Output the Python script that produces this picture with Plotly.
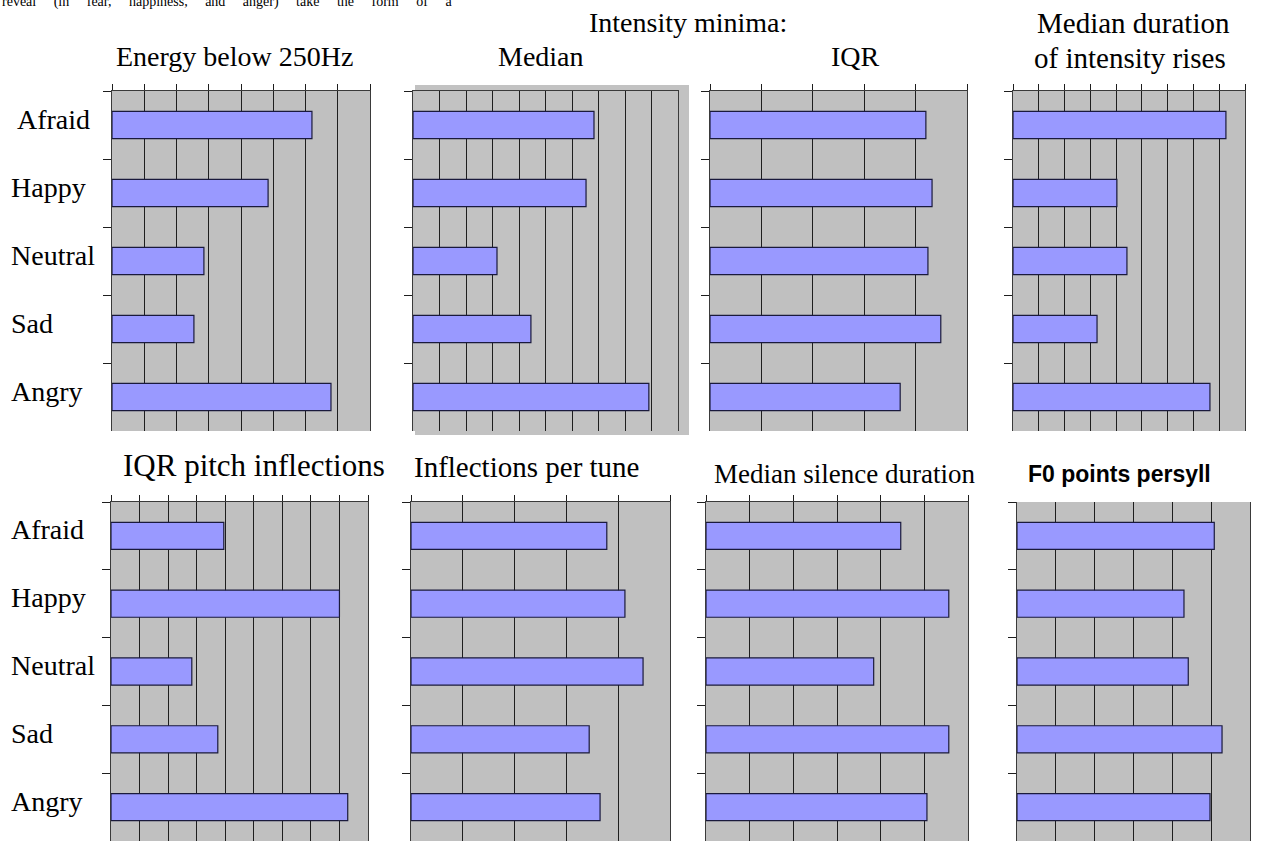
import plotly.graph_objects as go

W, H = 1261, 841

categories = ["Afraid", "Happy", "Neutral", "Sad", "Angry"]

energy_below_250 = [6.2, 4.84, 2.85, 2.54, 6.79]
intensity_min_median = [6.83, 6.53, 3.17, 4.45, 8.9]
intensity_min_iqr = [4.2, 4.32, 4.24, 4.49, 3.7]
intensity_rise_duration = [8.26, 4.03, 4.42, 3.26, 7.64]
iqr_pitch_inflections = [3.95, 8.0, 2.83, 3.74, 8.29]
inflections_per_tune = [3.78, 4.13, 4.48, 3.44, 3.65]
median_silence_duration = [4.46, 5.56, 3.84, 5.56, 5.06]
f0_points_persyll = [5.08, 4.3, 4.41, 5.28, 4.97]

axis_max = [8, 10, 5, 9, 9, 5, 6, 6]

series = [energy_below_250, intensity_min_median, intensity_min_iqr,
          intensity_rise_duration, iqr_pitch_inflections, inflections_per_tune,
          median_silence_duration, f0_points_persyll]

# panel layout in pixels: (x0, x1, y_top, y_bottom, top_line, top_ticks)
panel_geo = [
    (112, 370, 91, 431, True, True),
    (413, 678, 91, 431, True, False),
    (710, 967, 91, 431, True, True),
    (1013, 1245, 91, 431, True, True),
    (111, 368, 502, 841, True, True),
    (411, 670, 502, 841, True, True),
    (706, 968, 502, 841, True, True),
    (1017, 1250, 502, 841, False, False),
]

SERIF = "Liberation Serif, Times New Roman, serif"
GRID = "#1e1e1e"
LINE = "#3a3a3a"

fig = go.Figure()
layout = {}

for i, (vals, xmax, geo) in enumerate(zip(series, axis_max, panel_geo)):
    k = "" if i == 0 else str(i + 1)
    x0, x1, yt, yb, topline, topticks = geo
    fig.add_trace(go.Bar(
        x=vals, y=categories, orientation="h",
        xaxis="x" + k, yaxis="y" + k, width=0.4,
        marker=dict(color="#9999FF", line=dict(color="#1a1a3c", width=1.2)),
        hoverinfo="x+y", showlegend=False,
    ))
    layout["xaxis" + k] = dict(
        domain=[x0 / W, x1 / W], anchor="y" + k, side="top",
        range=[0, xmax], tick0=0, dtick=1,
        showgrid=True, gridcolor=GRID, gridwidth=1,
        showline=topline, linecolor=LINE, linewidth=1,
        ticks="outside" if topticks else "", ticklen=6, tickcolor=GRID, tickwidth=1,
        showticklabels=False, zeroline=False, fixedrange=True,
    )
    layout["yaxis" + k] = dict(
        domain=[1 - yb / H, 1 - yt / H], anchor="x" + k,
        type="category", categoryorder="array", categoryarray=categories,
        range=[4.5, -0.5], tickson="boundaries",
        ticks="outside", ticklen=8, tickcolor=GRID, tickwidth=1,
        showticklabels=False, showline=True, linecolor=LINE, linewidth=1,
        mirror=True, showgrid=False, zeroline=False, fixedrange=True,
    )

fig.update_layout(**layout)


def px(x, y):
    return x / W, 1 - y / H


annotations = []

def text(t, x, y, size, family=SERIF, anchor="center", bold=False, yanchor="middle"):
    ax, ay = px(x, y)
    annotations.append(dict(
        text=("<b>%s</b>" % t) if bold else t, x=ax, y=ay, xref="paper", yref="paper",
        xanchor=anchor, yanchor=yanchor, showarrow=False,
        font=dict(family=family, size=size, color="#000000"),
    ))

# cut-off body text at the very top
gap = " " + "\u00a0" * 4
frag = gap.join(["reveal", "(in", "fear,", "happiness,", "and", "anger)", "take", "the", "form", "of", "a"])
text(frag, 0, 2, 14, anchor="left")

# panel titles
text("Energy below 250Hz", 234, 57, 28)
text("Intensity minima:", 688, 22, 28)
text("Median", 541, 56, 28)
text("IQR", 855, 56, 28)
text("Median duration", 1133, 23, 29)
text("of intensity rises", 1130, 58, 29)
text("IQR pitch inflections", 254, 465, 31)
text("Inflections per tune", 526, 467, 29)
text("Median silence duration", 845, 474, 27)
text("F0 points persyll", 1119, 474, 23, family="Liberation Sans, Arial, sans-serif", bold=True)

# category labels, positioned through the y axes
for c in categories:
    annotations.append(dict(
        text=c, x=(15 if c == "Afraid" else 9) / W, xref="paper", y=c, yref="y",
        xanchor="left", yanchor="middle", yshift=6, showarrow=False,
        font=dict(family=SERIF, size=28, color="#000000"),
    ))
    annotations.append(dict(
        text=c, x=9 / W, xref="paper", y=c, yref="y5",
        xanchor="left", yanchor="middle", yshift=6, showarrow=False,
        font=dict(family=SERIF, size=28, color="#000000"),
    ))

sx0, sy1 = px(415, 85)
sx1, sy0 = px(689, 435)
fig.update_layout(
    width=W, height=H,
    margin=dict(l=0, r=0, t=0, b=0),
    paper_bgcolor="#FFFFFF", plot_bgcolor="#C0C0C0",
    annotations=annotations,
    shapes=[dict(type="rect", xref="paper", yref="paper", x0=sx0, x1=sx1, y0=sy0, y1=sy1,
                 fillcolor="#C2C2C2", line=dict(width=0), layer="below")],
    showlegend=False,
)

fig.write_html(
    "out.html",
    config={"displayModeBar": False},
    post_script="document.body.style.margin='0';document.body.style.overflow='hidden';",
)
